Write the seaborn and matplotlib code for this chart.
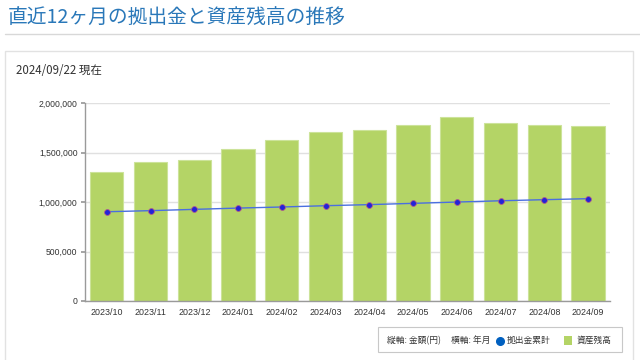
import numpy as np
import pandas as pd
import matplotlib
matplotlib.use("Agg")
import matplotlib.pyplot as plt
import seaborn as sns
from matplotlib.patches import Rectangle
from matplotlib.lines import Line2D

months = ["2023/10", "2023/11", "2023/12", "2024/01", "2024/02", "2024/03",
          "2024/04", "2024/05", "2024/06", "2024/07", "2024/08", "2024/09"]
assets = [1308000, 1406000, 1429000, 1540000, 1632000, 1713000,
          1730000, 1777000, 1858000, 1804000, 1777000, 1773000]
contrib = [903000, 914000, 927000, 940000, 951000, 964000,
           975000, 988000, 1001000, 1014000, 1025000, 1035000]
yticks = [0, 500000, 1000000, 1500000, 2000000]

title = "直近12ヶ月の拠出金と資産残高の推移"
subtitle = "2024/09/22 現在"
note_y = "縦軸: 金額(円)"
note_x = "横軸: 年月"
lbl_contrib = "拠出金累計"
lbl_assets = "資産残高"

sns.set_theme(style="white")
plt.rcParams['font.family'] = ['Noto Sans CJK JP', 'DejaVu Sans']

df = pd.DataFrame({"month": months, "assets": assets, "contrib": contrib})

fig = plt.figure(figsize=(6.4, 3.6), dpi=100)
W, H = 640, 360

def fx(px):
    return px / W

def fy(py):
    return 1 - py / H

# title & separator
fig.text(fx(8), fy(18.5), title, fontsize=14.2, color="#2a78b9", va="center", ha="left")
fig.add_artist(Line2D([fx(5), fx(640)], [fy(33.5), fy(33.5)], color="#d8d8d8", lw=1.0))
# panel border
fig.add_artist(Rectangle((fx(5), fy(365)), fx(633) - fx(5), fy(50.5) - fy(365),
                         fill=False, edgecolor="#e2e2e2", lw=1.0))
fig.text(fx(16), fy(71), subtitle, fontsize=8.3, color="#333333", va="center", ha="left")

ax = fig.add_axes([fx(84.5), fy(301), fx(610) - fx(84.5), fy(103.3) - fy(301)])
sns.barplot(data=df, x="month", y="assets", ax=ax, color="#b4d466", saturation=1,
            width=0.76, edgecolor="#cce39a", linewidth=0.8, zorder=2)
sns.lineplot(x=np.arange(len(months)), y=contrib, ax=ax, color="#4a6fe0", lw=1.0,
             marker="o", markersize=4.2, markerfacecolor="#2323d8",
             markeredgecolor="#b05a8a", markeredgewidth=0.6, zorder=4)

ax.set_xlim(-0.51, len(months) - 0.5)
ax.set_ylim(0, 2000000)
ax.set_yticks(yticks)
ax.set_yticklabels([f"{v:,}" for v in yticks], fontsize=6.2, color="#333333",
                   family=["Liberation Sans", "DejaVu Sans"])
ax.set_xticks(range(len(months)))
ax.set_xticklabels(months, fontsize=6.4, color="#333333", family=["Liberation Sans", "DejaVu Sans"])
ax.set_xlabel("")
ax.set_ylabel("")
ax.yaxis.grid(True, color="#e0e0e0", lw=1.0, zorder=0)
ax.set_axisbelow(True)
for s in ["top", "right"]:
    ax.spines[s].set_visible(False)
for s in ["left", "bottom"]:
    ax.spines[s].set_color("#9a9a9a")
    ax.spines[s].set_linewidth(1.0)
ax.tick_params(axis="y", length=3, color="#9a9a9a", pad=2, left=True)
ax.tick_params(axis="x", length=0, pad=5)

# legend box
fig.add_artist(Rectangle((fx(378), fy(352)), fx(622) - fx(378), fy(327) - fy(352),
                         fill=False, edgecolor="#c8c8c8", lw=0.8))
ly = fy(340.5)
fig.text(fx(387), ly, note_y, fontsize=6.3, color="#333333", va="center", ha="left")
fig.text(fx(451), ly, note_x, fontsize=6.3, color="#333333", va="center", ha="left")
fig.add_artist(Line2D([fx(500)], [ly], marker="o", markersize=5.5, color="#0060c0", lw=0))
fig.text(fx(507), ly, lbl_contrib, fontsize=6.3, color="#333333", va="center", ha="left")
fig.add_artist(Rectangle((fx(564), fy(345)), fx(572) - fx(564), fy(336) - fy(345),
                         facecolor="#b4d466", edgecolor="none"))
fig.text(fx(577), ly, lbl_assets, fontsize=6.3, color="#333333", va="center", ha="left")

fig.savefig("out.png", dpi=100)
